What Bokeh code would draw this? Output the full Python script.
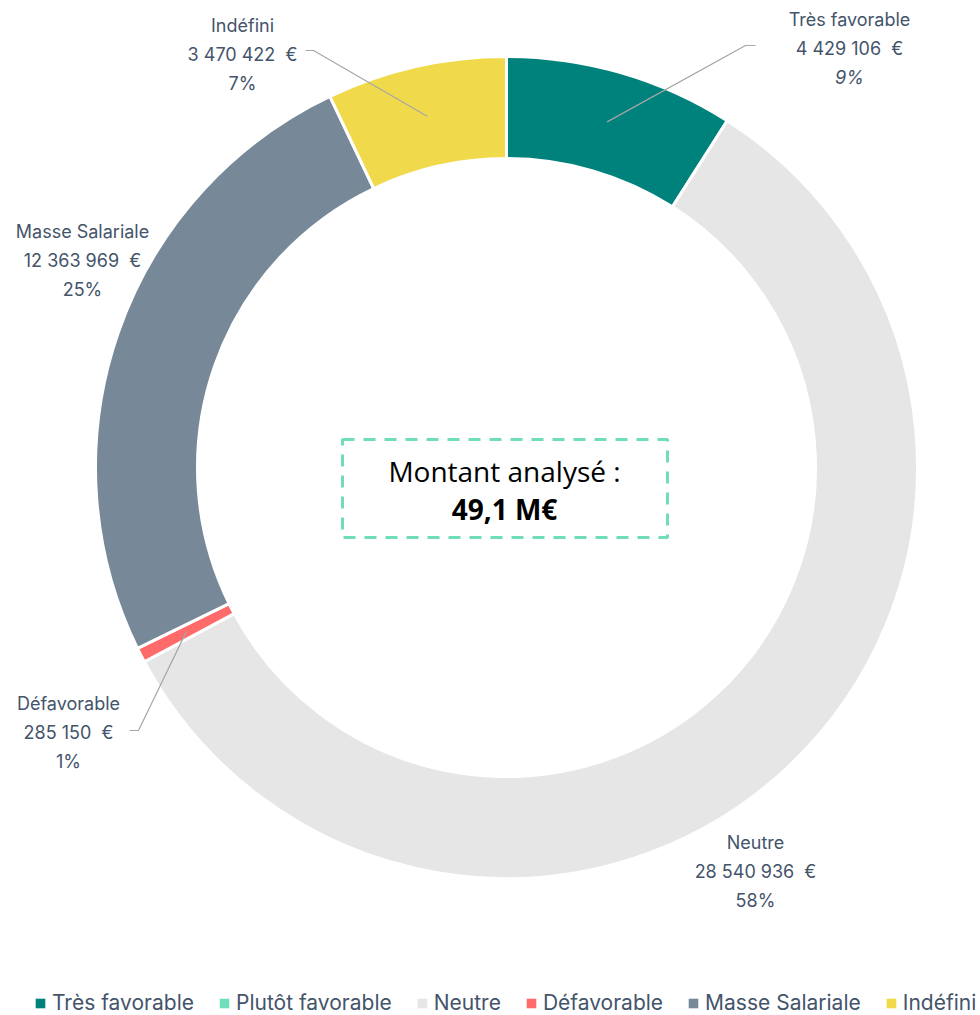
import math
from bokeh.plotting import figure
from bokeh.models import ColumnDataSource, Legend, LegendItem, BoxAnnotation, Range1d
from bokeh.core.properties import value
from bokeh.embed import file_html
from bokeh.resources import INLINE

# ---- data ----
categories = ["Très favorable", "Plutôt favorable", "Neutre", "Défavorable", "Masse Salariale", "Indéfini"]
amounts = [4429106, 0, 28540936, 285150, 12363969, 3470422]
colors = ["#00827C", "#6FDFBB", "#E6E6E6", "#FF6B6B", "#778899", "#F0DA4B"]
center_title = "Montant analysé :"

total = sum(amounts)

# ---- layout (image pixel coordinates) ----
W, H = 980, 1015
IMG_H = 1015
def Y(img_y):
    return IMG_H - img_y

CX, CY = 506, Y(467)
R_OUT, R_IN = 411, 309
R_MID = (R_OUT + R_IN) / 2

TEXT_COLOR = "#44546A"
FONT = "Inter"
NB = "\u00a0"

label_layout = {
    "Très favorable": dict(x=849, y=19, knee=(745, 45), end=(755, 45), italic_pct=True),
    "Indéfini": dict(x=242, y=25, knee=(313, 50), end=(305, 50)),
    "Masse Salariale": dict(x=82, y=231),
    "Défavorable": dict(x=68, y=703, knee=(138, 730), end=(129, 730)),
    "Neutre": dict(x=755, y=842),
}
LINE_GAP = 29

p = figure(width=W, height=H, x_range=Range1d(0, W), y_range=Range1d(IMG_H - H, IMG_H),
           output_backend="svg", toolbar_location=None, min_border=0)
p.axis.visible = False
p.grid.visible = False
p.outline_line_color = None
p.background_fill_color = "white"

# wedge angles (clockwise from top)
starts, ends, mids = [], [], []
cum = 0.0
for a in amounts:
    f0 = cum / total
    cum += a
    f1 = cum / total
    starts.append(math.pi / 2 - f0 * 2 * math.pi)
    ends.append(math.pi / 2 - f1 * 2 * math.pi)
    mids.append(math.pi / 2 - (f0 + f1) / 2 * 2 * math.pi)

nz = [i for i, a in enumerate(amounts) if a > 0]
src = ColumnDataSource(dict(cat=[categories[i] for i in nz], color=[colors[i] for i in nz],
                            start=[starts[i] for i in nz], end=[ends[i] for i in nz],
                            x=[CX] * len(nz), y=[CY] * len(nz)))

p.annular_wedge(x="x", y="y", inner_radius=R_IN, outer_radius=R_OUT,
                inner_radius_units="screen", outer_radius_units="screen",
                start_angle="start", end_angle="end", direction="clock",
                fill_color="color", line_color="white", line_width=3, source=src)

# legend swatches (not drawn in the plot area: NaN positions)
leg_src = ColumnDataSource(dict(x=[float("nan")] * len(categories), y=[float("nan")] * len(categories),
                                color=colors))
leg_r = p.rect(x="x", y="y", width=1, height=1, fill_color="color", line_color=None, source=leg_src)

# labels
def fmt_amount(v):
    return f"{v:,}".replace(",", " ") + NB + NB + "€"

lx, ly, lt, lstyle = [], [], [], []
lead_xs, lead_ys = [], []
for i, c in enumerate(categories):
    if c not in label_layout or amounts[i] == 0:
        continue
    L = label_layout[c]
    pct = f"{round(amounts[i] / total * 100)}%"
    lines = [c, fmt_amount(amounts[i]), pct]
    for k, t in enumerate(lines):
        lx.append(L["x"])
        ly.append(Y(L["y"] + k * LINE_GAP))
        lt.append(t)
        lstyle.append("italic" if (k == 2 and L.get("italic_pct")) else "normal")
    if "knee" in L:
        sx = CX + R_MID * math.cos(mids[i])
        sy = CY + R_MID * math.sin(mids[i])
        lead_xs.append([sx, L["knee"][0], L["end"][0]])
        lead_ys.append([sy, Y(L["knee"][1]), Y(L["end"][1])])

p.multi_line(xs=lead_xs, ys=lead_ys, line_color="#A6A6A6", line_width=1.2)

lab_src = ColumnDataSource(dict(x=lx, y=ly, text=lt, style=lstyle))
p.text(x="x", y="y", text="text", source=lab_src, text_align="center", text_baseline="middle",
       text_font=value(FONT), text_font_size="18px", text_color=TEXT_COLOR, text_font_style="style")

# center box
box = BoxAnnotation(left=342, right=667, top=Y(439), bottom=Y(537),
                    fill_color=None, fill_alpha=0, line_color="#6EDDB8", line_alpha=1.0,
                    line_width=3, line_dash="12 9")
p.add_layout(box)
total_txt = f"{total / 1e6:.1f}".replace(".", ",") + " M€"
p.text(x=[504], y=[Y(470)], text=[center_title], text_align="center", text_baseline="middle",
       text_font=value("Open Sans"), text_font_size="28px", text_color="#000000")
p.text(x=[504], y=[Y(508)], text=[total_txt], text_align="center", text_baseline="middle",
       text_font=value("Open Sans"), text_font_size="28px", text_font_style="bold", text_color="#000000")

# legend
items = [LegendItem(label=c, renderers=[leg_r], index=i) for i, c in enumerate(categories)]
legend = Legend(items=items, orientation="horizontal", location=(34, 0),
                label_text_font=FONT, label_text_font_size="21px", label_text_color=TEXT_COLOR,
                glyph_width=12, glyph_height=12, label_standoff=6, spacing=24,
                padding=0, margin=0, border_line_color=None, background_fill_alpha=0)
p.add_layout(legend, "center")

open("out.html", "w").write(file_html(p, INLINE))
